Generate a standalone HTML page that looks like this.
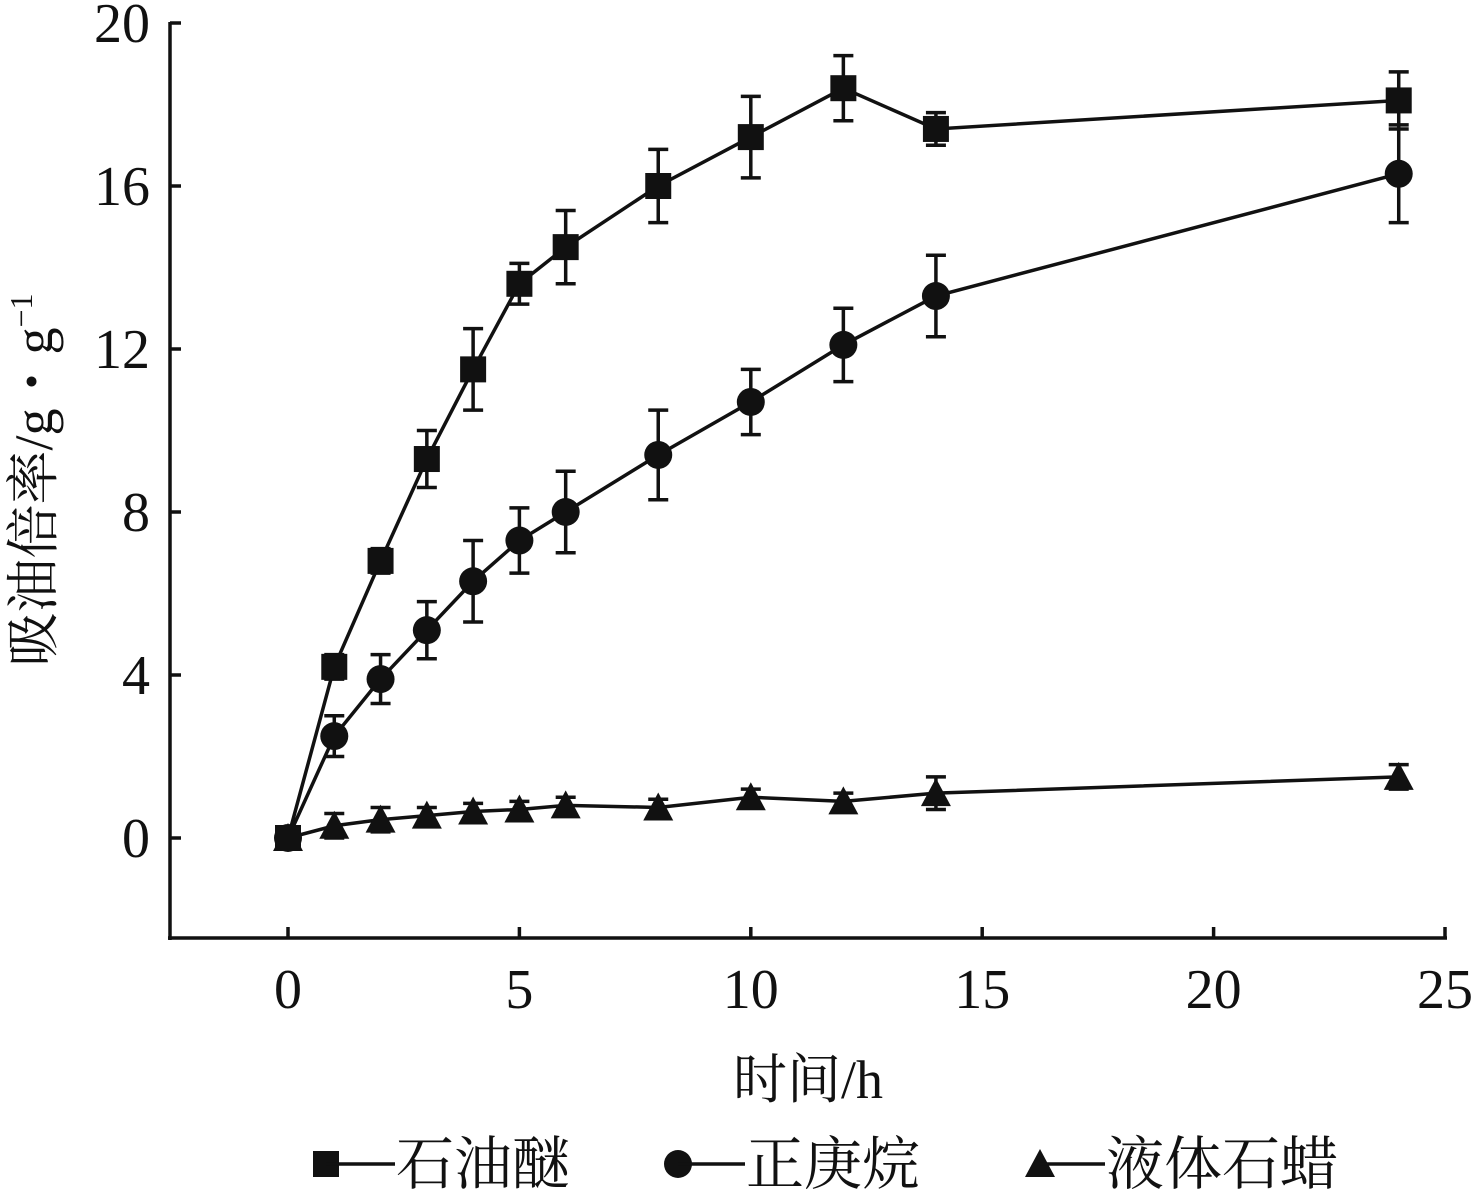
<!DOCTYPE html>
<html><head><meta charset="utf-8"><style>
html,body{margin:0;padding:0;background:#fff;}
svg text{font-family:"Liberation Serif","Noto Serif CJK SC",serif;fill:#111;}
</style></head><body>
<svg id="chart" width="1472" height="1195" viewBox="0 0 1472 1195" xmlns="http://www.w3.org/2000/svg">
<g id="axes"></g>
<g id="series"></g>
<text x="808" y="1098" font-size="54" text-anchor="middle">时间/h</text>
<text transform="translate(52,480) rotate(-90)" font-size="54" text-anchor="middle">吸油倍率/g・g<tspan font-size="32" dy="-20">−1</tspan></text>
<g>
<g><rect x="313" y="1151" width="26" height="26" fill="#111"/><line x1="326" y1="1164" x2="395" y2="1164" stroke="#111" stroke-width="3.5"/><text x="396" y="1184" font-size="58">石油醚</text></g>
<g><circle cx="678" cy="1164" r="14" fill="#111"/><line x1="678" y1="1164" x2="745" y2="1164" stroke="#111" stroke-width="3.5"/><text x="746" y="1184" font-size="58">正庚烷</text></g>
<g><polygon points="1040,1149 1025,1177 1055,1177" fill="#111"/><line x1="1040" y1="1164" x2="1105" y2="1164" stroke="#111" stroke-width="3.5"/><text x="1106" y="1184" font-size="58">液体石蜡</text></g>
</g>
</svg>
<script>
const xs = [0,1,2,3,4,5,6,8,10,12,14,24];
const petEther = [0,4.2,6.8,9.3,11.5,13.6,14.5,16.0,17.2,18.4,17.4,18.1];
const petEtherErr = [0,0.3,0.3,0.7,1.0,0.5,0.9,0.9,1.0,0.8,0.4,0.7];
const heptane = [0,2.5,3.9,5.1,6.3,7.3,8.0,9.4,10.7,12.1,13.3,16.3];
const heptaneErr = [0,0.5,0.6,0.7,1.0,0.8,1.0,1.1,0.8,0.9,1.0,1.2];
const paraffin = [0,0.3,0.45,0.55,0.65,0.7,0.8,0.75,1.0,0.9,1.1,1.5];
const paraffinErr = [0,0.3,0.3,0.2,0.2,0.2,0.2,0.2,0.2,0.2,0.4,0.3];
const xTicks = [0,5,10,15,20,25];
const yTicks = [0,4,8,12,16,20];
const NS="http://www.w3.org/2000/svg";
const X = v => 288 + v*46.28;
const Y = v => 838 - v*40.75;
function mk(tag, attrs, parent){const e=document.createElementNS(NS,tag);for(const k in attrs)e.setAttribute(k,attrs[k]);parent.appendChild(e);return e;}
const axes=document.getElementById('axes');
const yAxis=mk('line',{x1:170,y1:22,x2:170,y2:940,stroke:'#111','stroke-width':3.5},axes);


const xAxis=mk('line',{x1:168,y1:938,x2:1447,y2:938,stroke:'#111','stroke-width':3.5},axes);


yTicks.forEach(t=>{
  const l=mk('line',{x1:170,y1:Y(t),x2:181,y2:Y(t),stroke:'#111','stroke-width':3.5},axes);
  
  
  const tx=mk('text',{x:150,y:Y(t)+19,'font-size':56,'text-anchor':'end'},axes);
  tx.textContent=t;
  
  
});
xTicks.forEach(t=>{
  const l=mk('line',{x1:X(t),y1:938,x2:X(t),y2:927,stroke:'#111','stroke-width':3.5},axes);
  
  
  const tx=mk('text',{x:X(t),y:1008,'font-size':56,'text-anchor':'middle'},axes);
  tx.textContent=t;
  
  
});
const sg=document.getElementById('series');
function drawSeries(vals, errs, shape, name){
  const g=mk('g',{},sg);
  
  
  const pl=mk('polyline',{points:xs.map((x,i)=>X(x)+','+Y(vals[i])).join(' '),fill:'none',stroke:'#111','stroke-width':3.5},g);
  
  
  xs.forEach((x,i)=>{
    const cx=X(x), cy=Y(vals[i]);
    if(errs[i]>0){
      const t=Y(vals[i]+errs[i]), b=Y(vals[i]-errs[i]);
      const eb=mk('path',{d:`M${cx},${t}V${b}M${cx-10},${t}H${cx+10}M${cx-10},${b}H${cx+10}`,stroke:'#111','stroke-width':3.5,fill:'none'},g);
      
      
    }
    let m;
    if(shape==='square') m=mk('rect',{x:cx-13,y:cy-13,width:26,height:26,fill:'#111'},g);
    else if(shape==='circle') m=mk('circle',{cx:cx,cy:cy,r:14,fill:'#111'},g);
    else m=mk('polygon',{points:`${cx},${cy-15} ${cx-15},${cy+13} ${cx+15},${cy+13}`,fill:'#111'},g);
    
    
  });
}
drawSeries(paraffin, paraffinErr, 'triangle', 'liquid-paraffin-series');
drawSeries(heptane, heptaneErr, 'circle', 'n-heptane-series');
drawSeries(petEther, petEtherErr, 'square', 'petroleum-ether-series');
</script>
</body></html>
